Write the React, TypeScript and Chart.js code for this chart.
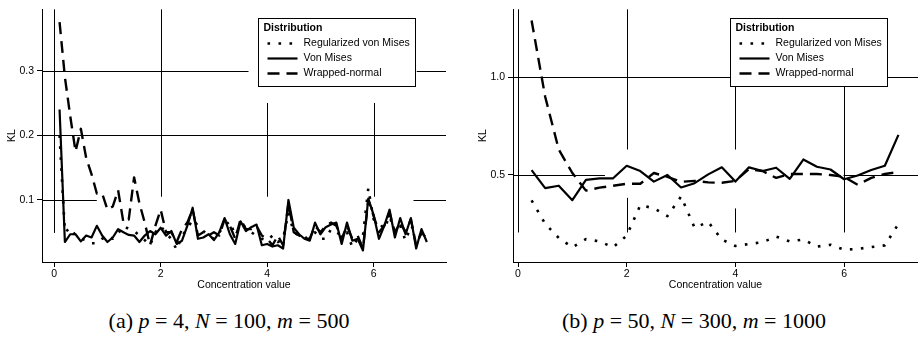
import React, { useEffect, useRef } from "react";
import { Chart, registerables } from "chart.js";

Chart.register(...registerables);

const FONT = "'Liberation Sans', Arial, Helvetica, sans-serif";
const SERIF = "'Liberation Serif', 'DejaVu Serif', serif";

// ---------- data ----------
const seriesNames = ["Regularized von Mises", "Von Mises", "Wrapped-normal"];
const legendTitle = "Distribution";
const xTitle = "Concentration value";
const yTitle = "KL";

const xA = [
  0.1, 0.2, 0.3, 0.4, 0.5, 0.6, 0.7, 0.8, 0.9, 1.0,
  1.1, 1.2, 1.3, 1.4, 1.5, 1.6, 1.7, 1.8, 1.9, 2.0,
  2.1, 2.2, 2.3, 2.4, 2.5, 2.6, 2.7, 2.8, 2.9, 3.0,
  3.1, 3.2, 3.3, 3.4, 3.5, 3.6, 3.7, 3.8, 3.9, 4.0,
  4.1, 4.2, 4.3, 4.4, 4.5, 4.6, 4.7, 4.8, 4.9, 5.0,
  5.1, 5.2, 5.3, 5.4, 5.5, 5.6, 5.7, 5.8, 5.9, 6.0,
  6.1, 6.2, 6.3, 6.4, 6.5, 6.6, 6.7, 6.8, 6.9, 7.0,
];
const regA = [
  0.2, 0.05, 0.057, 0.045, 0.04, 0.038, 0.033, 0.033, 0.04, 0.045,
  0.04, 0.048, 0.06, 0.055, 0.052, 0.045, 0.038, 0.03, 0.05, 0.06,
  0.048, 0.04, 0.023, 0.045, 0.055, 0.07, 0.06, 0.052, 0.045, 0.04,
  0.05, 0.06, 0.067, 0.045, 0.06, 0.058, 0.05, 0.045, 0.04, 0.037,
  0.045, 0.035, 0.04, 0.08, 0.05, 0.045, 0.04, 0.045, 0.05, 0.04,
  0.04, 0.055, 0.05, 0.045, 0.05, 0.027, 0.04, 0.045, 0.118, 0.07,
  0.065, 0.055, 0.075, 0.05, 0.06, 0.037, 0.06, 0.05, 0.045, 0.04,
];
const vmA = [
  0.24, 0.035, 0.047, 0.047, 0.036, 0.045, 0.042, 0.06, 0.045, 0.035,
  0.042, 0.055, 0.05, 0.046, 0.045, 0.035, 0.045, 0.052, 0.047, 0.057,
  0.045, 0.052, 0.032, 0.037, 0.06, 0.088, 0.04, 0.042, 0.047, 0.038,
  0.05, 0.072, 0.047, 0.032, 0.067, 0.052, 0.058, 0.062, 0.03, 0.032,
  0.028, 0.03, 0.025, 0.1, 0.057, 0.047, 0.04, 0.037, 0.065, 0.047,
  0.058, 0.062, 0.065, 0.032, 0.065, 0.037, 0.04, 0.022, 0.102, 0.077,
  0.04, 0.06, 0.085, 0.042, 0.072, 0.047, 0.072, 0.025, 0.055, 0.035,
];
const wnA = [
  0.375, 0.29, 0.23, 0.175, 0.21, 0.165, 0.14, 0.11, 0.11, 0.085,
  0.09, 0.115, 0.065, 0.07, 0.135, 0.095, 0.065, 0.03, 0.06, 0.085,
  0.05, 0.05, 0.035, 0.055, 0.065, 0.085, 0.045, 0.05, 0.045, 0.05,
  0.045, 0.07, 0.06, 0.04, 0.07, 0.055, 0.055, 0.06, 0.045, 0.04,
  0.03, 0.045, 0.03, 0.095, 0.05, 0.045, 0.04, 0.04, 0.06, 0.05,
  0.06, 0.065, 0.06, 0.04, 0.06, 0.04, 0.045, 0.025, 0.1, 0.075,
  0.05, 0.06, 0.08, 0.05, 0.065, 0.05, 0.07, 0.03, 0.05, 0.04,
];

const xB = [
  0.25, 0.5, 0.75, 1.0, 1.25, 1.5, 1.75, 2.0, 2.25, 2.5, 2.75, 3.0, 3.25, 3.5,
  3.75, 4.0, 4.25, 4.5, 4.75, 5.0, 5.25, 5.5, 5.75, 6.0, 6.25, 6.5, 6.75, 7.0,
];
const regB = [
  0.37, 0.25, 0.178, 0.13, 0.172, 0.16, 0.13, 0.19, 0.345, 0.33, 0.29, 0.39, 0.23, 0.26,
  0.17, 0.137, 0.147, 0.156, 0.185, 0.16, 0.17, 0.134, 0.143, 0.118, 0.122, 0.131, 0.14, 0.25,
];
const vmB = [
  0.525, 0.433, 0.445, 0.371, 0.475, 0.483, 0.483, 0.547, 0.52, 0.466, 0.5, 0.436, 0.458, 0.503,
  0.539, 0.466, 0.539, 0.52, 0.537, 0.48, 0.579, 0.542, 0.528, 0.478, 0.497, 0.525, 0.547, 0.705,
];
const wnB = [
  1.29, 0.9, 0.63, 0.51, 0.42, 0.435, 0.445, 0.455, 0.455, 0.51, 0.49, 0.465, 0.47, 0.462,
  0.46, 0.47, 0.53, 0.52, 0.485, 0.505, 0.505, 0.505, 0.5, 0.49, 0.45, 0.485, 0.505, 0.515,
];

const xTicks = [0, 2, 4, 6];
const yTicksA = [0.1, 0.2, 0.3];
const yTicksB = [0.5, 1.0];

// grid reference segments in data units: [position, from, to]
const vSegsA: number[][] = [[0, 0.049, Infinity], [2, 0.105, Infinity], [4, 0.105, 0.25], [6, 0.105, 0.25]];
const hSegsA: number[][] = [[0.3, -Infinity, 3.65], [0.3, 6.81, Infinity], [0.2, -Infinity, Infinity], [0.1, -Infinity, 0.8], [0.1, 6.75, Infinity]];
const vSegsB: number[][] = [[0, 0.206, Infinity], [2, 0.63, Infinity], [2, 0.206, 0.383], [4, 0.63, 0.961], [4, 0.206, 0.329], [6, 0.206, 0.961]];
const hSegsB: number[][] = [[1.0, -Infinity, Infinity], [0.5, -Infinity, 1.6], [0.5, 5.99, Infinity]];

const captionA = { tag: "(a)", parts: [["p", "4"], ["N", "100"], ["m", "500"]] };
const captionB = { tag: "(b)", parts: [["p", "50"], ["N", "300"], ["m", "1000"]] };

// ---------- styles ----------
const lineStyles = [
  { width: 2.6, dash: [2.6, 8.4] },
  { width: 2.2, dash: [] as number[] },
  { width: 2.4, dash: [12, 7] },
];

const CANVAS_H = 300;
const AREA_BOTTOM = 262;

interface PanelCfg {
  x: number[];
  series: number[][];
  xMin: number;
  xMax: number;
  yMin: number;
  yMax: number;
  yTicks: number[];
  yAxisWidth: number;
  padRight: number;
  yTitlePad: number;
  vSegs: number[][];
  hSegs: number[][];
}

function Panel({ cfg, left, width }: { cfg: PanelCfg; left: number; width: number }) {
  const ref = useRef<HTMLCanvasElement>(null);
  useEffect(() => {
    const canvas = ref.current!;
    const segPlugin = {
      id: "gridSegs",
      beforeDatasetsDraw(chart: any) {
        const { ctx, chartArea } = chart;
        const xs = chart.scales.x;
        const ys = chart.scales.y;
        const cx = (v: number) => Math.min(chartArea.right, Math.max(chartArea.left, xs.getPixelForValue(v)));
        const cy = (v: number) => Math.min(chartArea.bottom, Math.max(chartArea.top, ys.getPixelForValue(v)));
        ctx.save();
        ctx.strokeStyle = "#000";
        ctx.lineWidth = 1;
        cfg.vSegs.forEach(([xv, y0, y1]) => {
          const px = Math.round(xs.getPixelForValue(xv)) + 0.5;
          ctx.beginPath();
          ctx.moveTo(px, cy(y0));
          ctx.lineTo(px, cy(y1));
          ctx.stroke();
        });
        cfg.hSegs.forEach(([yv, x0, x1]) => {
          const py = Math.round(ys.getPixelForValue(yv)) + 0.5;
          ctx.beginPath();
          ctx.moveTo(cx(x0), py);
          ctx.lineTo(cx(x1), py);
          ctx.stroke();
        });
        ctx.restore();
      },
    };
    const legendPlugin = {
      id: "boxLegend",
      afterDraw(chart: any) {
        const { ctx, chartArea } = chart;
        const bw = 157;
        const bh = 68;
        const bx = Math.round(chartArea.right - 31 - bw) + 0.5;
        const by = Math.round(chartArea.top + 9) + 0.5;
        ctx.save();
        ctx.fillStyle = "#fff";
        ctx.fillRect(bx, by, bw, bh);
        ctx.strokeStyle = "#000";
        ctx.lineWidth = 1;
        ctx.strokeRect(bx, by, bw, bh);
        ctx.fillStyle = "#000";
        ctx.textBaseline = "middle";
        ctx.textAlign = "left";
        ctx.font = `bold 10.5px ${FONT}`;
        ctx.fillText(legendTitle, bx + 5, by + 9.5);
        ctx.font = `10.5px ${FONT}`;
        seriesNames.forEach((name, i) => {
          const yy = by + 25 + i * 15;
          ctx.save();
          ctx.lineWidth = lineStyles[i].width;
          ctx.lineCap = "butt";
          ctx.setLineDash(lineStyles[i].dash);
          ctx.beginPath();
          ctx.moveTo(bx + 9, yy);
          ctx.lineTo(bx + 39, yy);
          ctx.stroke();
          ctx.restore();
          ctx.fillText(name, bx + 45, yy);
        });
        ctx.restore();
      },
    };
    const font = { family: FONT, size: 10.5 };
    const chart = new Chart(canvas, {
      type: "line",
      data: {
        datasets: cfg.series.map((s, i) => ({
          label: seriesNames[i],
          data: cfg.x.map((xv, j) => ({ x: xv, y: s[j] })),
          borderColor: "#000",
          borderWidth: lineStyles[i].width,
          borderDash: lineStyles[i].dash,
          borderCapStyle: "butt",
          borderJoinStyle: "round",
          pointRadius: 0,
          tension: 0,
          fill: false,
        })),
      },
      options: {
        animation: false,
        responsive: false,
        maintainAspectRatio: false,
        devicePixelRatio: 1,
        events: [],
        layout: { padding: { top: 5, right: cfg.padRight, left: 0, bottom: 0 } },
        plugins: { legend: { display: false }, tooltip: { enabled: false } },
        scales: {
          x: {
            type: "linear",
            min: cfg.xMin,
            max: cfg.xMax,
            afterBuildTicks: (s: any) => {
              s.ticks = xTicks.map((v) => ({ value: v }));
            },
            afterFit: (s: any) => {
              s.height = CANVAS_H - AREA_BOTTOM;
            },
            grid: { display: true, drawOnChartArea: false, drawTicks: true, tickLength: 5, color: "#000", lineWidth: 1 },
            border: { display: true, color: "#000", width: 1 },
            ticks: { color: "#000", font, padding: 1, maxRotation: 0, autoSkip: false, callback: (v: any) => String(v) },
            title: { display: true, text: xTitle, color: "#000", font, padding: { top: 0, bottom: 9 } },
          },
          y: {
            type: "linear",
            min: cfg.yMin,
            max: cfg.yMax,
            afterBuildTicks: (s: any) => {
              s.ticks = cfg.yTicks.map((v) => ({ value: v }));
            },
            afterFit: (s: any) => {
              s.width = cfg.yAxisWidth;
            },
            grid: { display: true, drawOnChartArea: false, drawTicks: true, tickLength: 5, color: "#000", lineWidth: 1 },
            border: { display: true, color: "#000", width: 1 },
            ticks: { color: "#000", font, padding: 3, autoSkip: false, callback: (v: any) => Number(v).toFixed(1) },
            title: { display: true, text: yTitle, color: "#000", font, padding: { top: cfg.yTitlePad, bottom: 0 } },
          },
        },
      } as any,
      plugins: [segPlugin, legendPlugin],
    });
    return () => chart.destroy();
  }, []);
  return (
    <canvas
      ref={ref}
      width={width}
      height={CANVAS_H}
      style={{ position: "absolute", left, top: 0, width, height: CANVAS_H }}
    />
  );
}

function Caption({ c, center }: { c: typeof captionA; center: number }) {
  return (
    <div
      style={{
        position: "absolute",
        left: center - 220,
        width: 440,
        top: 307,
        textAlign: "center",
        fontFamily: SERIF,
        fontSize: 22,
        lineHeight: "28px",
        color: "#000",
        whiteSpace: "nowrap",
      }}
    >
      {c.tag}{" "}
      {c.parts.map(([v, n], i) => (
        <span key={i}>
          <i>{v}</i> = {n}
          {i < c.parts.length - 1 ? ", " : ""}
        </span>
      ))}
    </div>
  );
}

const cfgA: PanelCfg = {
  x: xA,
  series: [regA, vmA, wnA],
  xMin: -0.23,
  xMax: 7.36,
  yMin: 0.0041,
  yMax: 0.3948,
  yTicks: yTicksA,
  yAxisWidth: 42,
  padRight: 13,
  yTitlePad: 6,
  vSegs: vSegsA,
  hSegs: hSegsA,
};

const cfgB: PanelCfg = {
  x: xB,
  series: [regB, vmB, wnB],
  xMin: -0.092,
  xMax: 7.36,
  yMin: 0.055,
  yMax: 1.347,
  yTicks: yTicksB,
  yAxisWidth: 54,
  padRight: 0,
  yTitlePad: 18,
  vSegs: vSegsB,
  hSegs: hSegsB,
};

export default function App() {
  return (
    <div style={{ position: "absolute", left: 0, top: 0, width: 918, height: 343, background: "#fff", overflow: "hidden" }}>
      <Panel cfg={cfgA} left={0} width={459} />
      <Panel cfg={cfgB} left={459} width={459} />
      <Caption c={captionA} center={229} />
      <Caption c={captionB} center={694} />
    </div>
  );
}
